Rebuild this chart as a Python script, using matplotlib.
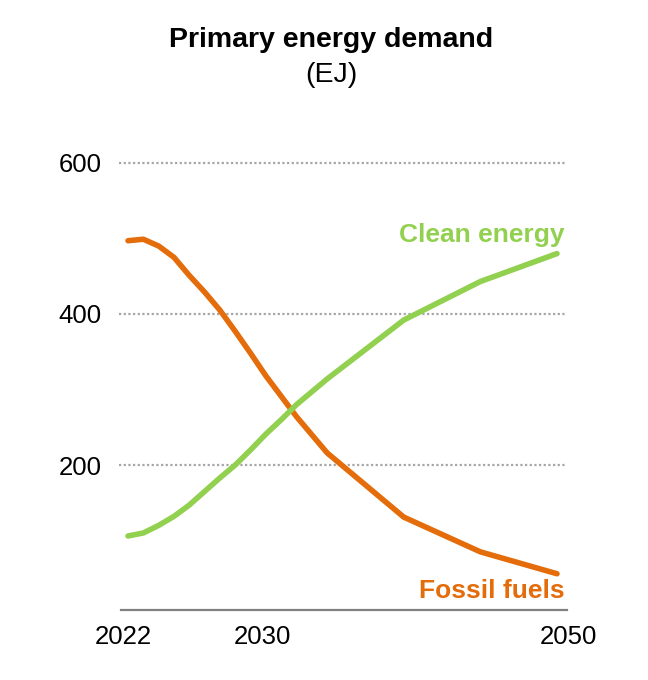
import matplotlib
matplotlib.use("Agg")
import matplotlib.pyplot as plt
from matplotlib.transforms import ScaledTranslation

plt.rcParams["font.family"] = ["Liberation Sans", "DejaVu Sans"]

# data (EJ)
years = [2022, 2023, 2024, 2025, 2026, 2027, 2028, 2029, 2030, 2031,
         2032, 2033, 2034, 2035, 2040, 2045, 2050]
fossil = [497, 499, 490, 475, 451, 429, 405, 377, 348, 318,
          291, 264, 240, 216, 131, 85, 56]
clean = [106, 110, 120, 132, 147, 165, 183, 200, 220, 241,
         260, 280, 297, 314, 392, 443, 480]

tick_years = [2022, 2030, 2050]
tick_shift_px = [-5, 12, 11]
y_ticks = [200, 400, 600]

ORANGE = "#E46C0A"
GREEN = "#92D050"

fig = plt.figure(figsize=(6.48, 6.8), dpi=100)
ax = fig.add_axes([121 / 648, 70 / 680, 446 / 648, 454.6 / 680])

ax.plot(years, fossil, color=ORANGE, lw=4, solid_capstyle="round",
        solid_joinstyle="round", zorder=3)
ax.plot(years, clean, color=GREEN, lw=4, solid_capstyle="round",
        solid_joinstyle="round", zorder=3)

ax.set_xlim(2022 - 7 / 15.32, 2050 + 10 / 15.32)
ax.set_ylim(8, 610)

for v in y_ticks:
    ax.plot([ax.get_xlim()[0] - 2 / 15.32, 2050 + 8 / 15.32], [v, v],
            color="#A6A6A6", lw=1.6, ls=(0, (1, 1.1)), zorder=1,
            clip_on=False)

for s in ["top", "right", "left"]:
    ax.spines[s].set_visible(False)
ax.spines["bottom"].set_color("#808080")
ax.spines["bottom"].set_linewidth(1.6)

ax.set_yticks(y_ticks)
ax.set_yticklabels([str(v) for v in y_ticks])
ax.set_xticks(tick_years)
ax.set_xticklabels([str(y) for y in tick_years])
ax.tick_params(axis="both", length=0, labelsize=18.5, colors="black")
ax.tick_params(axis="y", pad=14)
ax.tick_params(axis="x", pad=11)
for lab, dx in zip(ax.get_xticklabels(), tick_shift_px):
    lab.set_transform(lab.get_transform() +
                      ScaledTranslation(dx / 100, 0, fig.dpi_scale_trans))

ax.text(2050.5, 505, "Clean energy", color=GREEN, fontsize=19,
        fontweight="bold", ha="right", va="center")
ax.text(2050.5, 33, "Fossil fuels", color=ORANGE, fontsize=19,
        fontweight="bold", ha="right", va="center")

fig.text(0.511, 1 - 40 / 680, "Primary energy demand", fontsize=20.5,
         fontweight="bold", ha="center", va="center")
fig.text(0.511, 1 - 75 / 680, "(EJ)", fontsize=20.5, ha="center", va="center")

fig.savefig("out.png", dpi=100)
